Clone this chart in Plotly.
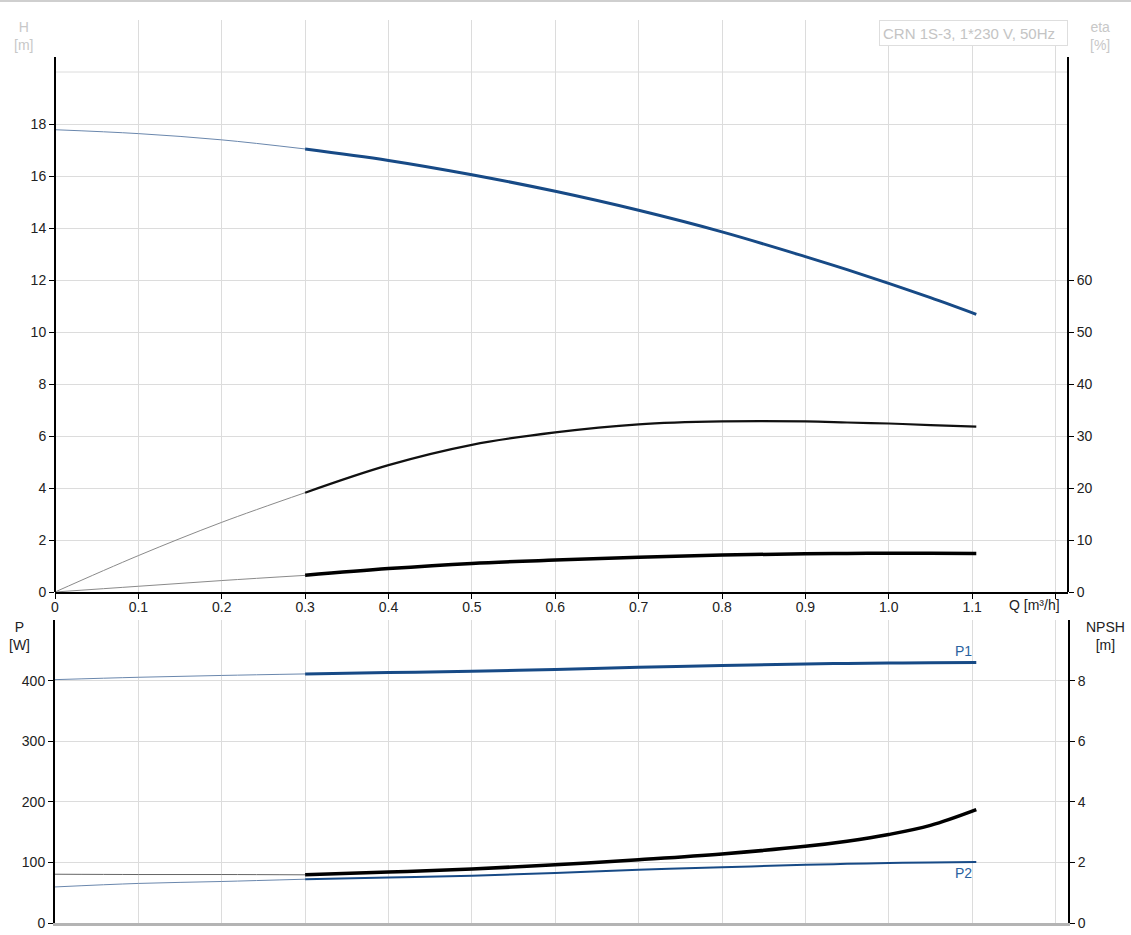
import plotly.graph_objects as go

# ---------------- data ----------------
q_thin = [0.0, 0.1, 0.2, 0.3]
q_thick = [0.3, 0.4, 0.5, 0.6, 0.7, 0.8, 0.9, 0.95, 1.0, 1.05, 1.105]

H_thin = [17.78, 17.63, 17.39, 17.04]
H_thick = [17.04, 16.60, 16.05, 15.41, 14.68, 13.85, 12.90, 12.40, 11.87, 11.32, 10.68]

eta_thin = [0.0, 7.0, 13.4, 19.1]
eta_thick = [19.1, 24.4, 28.3, 30.7, 32.25, 32.8, 32.8, 32.6, 32.4, 32.1, 31.8]

etaT_thin = [0.0, 1.1, 2.2, 3.2]
etaT_thick = [3.2, 4.5, 5.5, 6.15, 6.7, 7.1, 7.35, 7.42, 7.45, 7.45, 7.4]

P1_thin = [401.6, 405.5, 408.5, 411.0]
P1_thick = [411.0, 413.2, 415.4, 418.5, 421.9, 424.8, 427.4, 428.3, 429.0, 429.5, 430.0]

P2_thin = [59.5, 65.3, 68.5, 72.3]
P2_thick = [72.3, 75.0, 77.8, 82.5, 87.7, 92.0, 96.0, 97.6, 99.0, 100.0, 100.5]

NPSH_thin = [1.61, 1.60, 1.60, 1.59]
NPSH_thick = [1.59, 1.68, 1.78, 1.92, 2.09, 2.28, 2.53, 2.70, 2.92, 3.22, 3.74]

x_ticks = [0, 0.1, 0.2, 0.3, 0.4, 0.5, 0.6, 0.7, 0.8, 0.9, 1.0, 1.1, 1.2]
x_ticktext = ["0", "0.1", "0.2", "0.3", "0.4", "0.5", "0.6", "0.7", "0.8", "0.9", "1.0", "1.1", ""]
x_title = "Q [m³/h]"
H_ticks = [0, 2, 4, 6, 8, 10, 12, 14, 16, 18]
H_top_grid = 20
eta_ticks = [0, 10, 20, 30, 40, 50, 60]
P_ticks = [0, 100, 200, 300, 400]
NPSH_ticks = [0, 2, 4, 6, 8]

BLUE = "#174a86"
BLUE_THIN = "#6a87ad"
GRID = "#dcdcdc"
FONT = "Liberation Sans, Arial, sans-serif"

fig = go.Figure()

def add(x, y, color, width, xa, ya, shape="spline"):
    fig.add_trace(go.Scatter(x=x, y=y, mode="lines", xaxis=xa, yaxis=ya,
                             line=dict(color=color, width=width, shape=shape),
                             hoverinfo="skip", showlegend=False))

# top chart
add(q_thin, eta_thin, "#8a8a8a", 1, "x", "y2")
add(q_thick, eta_thick, "#111111", 2.2, "x", "y2")
add(q_thin, etaT_thin, "#8a8a8a", 1, "x", "y2")
add(q_thick, etaT_thick, "#000000", 3.5, "x", "y2")
add(q_thin, H_thin, BLUE_THIN, 1, "x", "y")
add(q_thick, H_thick, BLUE, 3, "x", "y")

# bottom chart
add(q_thin, NPSH_thin, "#666666", 1, "x2", "y4")
add(q_thick, NPSH_thick, "#000000", 3.5, "x2", "y4")
add(q_thin, P2_thin, BLUE_THIN, 1, "x2", "y3")
add(q_thick, P2_thick, BLUE, 2, "x2", "y3")
add(q_thin, P1_thin, BLUE_THIN, 1, "x2", "y3")
add(q_thick, P1_thick, BLUE, 3, "x2", "y3")

tickfont = dict(family=FONT, size=14, color="#222222")

top_dom = [(923 - 592) / 903, 1.0]
bot_dom = [0.0, (923 - 620) / 903]

fig.update_layout(
    width=1131, height=935,
    margin=dict(l=55, r=63, t=20, b=12, autoexpand=False),
    paper_bgcolor="white", plot_bgcolor="white",
    font=dict(family=FONT, size=14, color="#222222"),
    xaxis=dict(domain=[0, 1], range=[0, 1.215], anchor="y", automargin=False,
               tickvals=x_ticks, ticktext=x_ticktext, tickfont=tickfont,
               ticklabelstandoff=-4,
               showgrid=True, gridcolor=GRID, gridwidth=1, zeroline=False,
               ticks="outside", ticklen=5, tickcolor="#000", tickwidth=1,
               showline=True, linecolor="#000", linewidth=2),
    xaxis2=dict(domain=[0, 1], range=[0, 1.215], anchor="y3", automargin=False,
                tickvals=x_ticks, showticklabels=False,
                showgrid=True, gridcolor=GRID, gridwidth=1, zeroline=False,
                ticks="", showline=True, linecolor="#b4b4b4", linewidth=3),
    yaxis=dict(domain=top_dom, range=[0, 22], anchor="x", automargin=False,
               tickvals=H_ticks, tickfont=tickfont,
               showgrid=True, gridcolor=GRID, gridwidth=1, zeroline=False,
               ticks="outside", ticklen=5, tickcolor="#000", showline=False),
    yaxis2=dict(overlaying="y", side="right", range=[0, 110], anchor="x", automargin=False,
                tickvals=eta_ticks, tickfont=tickfont, showgrid=False, zeroline=False,
                ticks="outside", ticklen=5, tickcolor="#000", showline=False),
    yaxis3=dict(domain=bot_dom, range=[0, 500], anchor="x2", automargin=False,
                tickvals=P_ticks, tickfont=tickfont,
                showgrid=True, gridcolor=GRID, gridwidth=1, zeroline=False,
                ticks="outside", ticklen=5, tickcolor="#000",
                showline=True, linecolor="#000", linewidth=2),
    yaxis4=dict(overlaying="y3", side="right", range=[0, 10], anchor="x2", automargin=False,
                tickvals=NPSH_ticks, tickfont=tickfont, showgrid=False, zeroline=False,
                ticks="outside", ticklen=5, tickcolor="#000",
                showline=True, linecolor="#000", linewidth=2),
)

# gridline at H = 20 without a tick
fig.add_shape(type="line", xref="x domain", yref="y", x0=0, x1=1, y0=H_top_grid, y1=H_top_grid,
              line=dict(color=GRID, width=1), layer="below")

axis_top = (592 - 57) / (592 - 20)
fig.add_shape(type="line", xref="x domain", yref="y domain", x0=0, x1=0, y0=0, y1=axis_top,
              line=dict(color="#000", width=2))
fig.add_shape(type="line", xref="x domain", yref="y domain", x0=1, x1=1, y0=0, y1=axis_top,
              line=dict(color="#000", width=2))
# top frame line of the page
fig.add_shape(type="line", xref="paper", yref="paper", x0=-55 / 1013, x1=1 + 63 / 1013,
              y0=(923 - 1) / 903, y1=(923 - 1) / 903, line=dict(color="#cfcfcf", width=2))

# product label box
fig.add_annotation(xref="paper", yref="paper", x=1.0, y=1.0, xanchor="right", yanchor="top",
                   text="CRN 1S-3, 1*230 V, 50Hz", showarrow=False, align="left",
                   width=181, height=18,
                   font=dict(family=FONT, size=15, color="#c4c4c4"),
                   bordercolor="#dedede", borderwidth=1, borderpad=3, bgcolor="white")

def px_x(px):
    return (px - 55) / 1013

def px_y(px):
    return (923 - px) / 903

# x-axis title at the end of the top axis
fig.add_annotation(xref="x", yref="paper", x=1.2, y=px_y(605), text=x_title,
                   showarrow=False, xanchor="right", yanchor="middle", xshift=7,
                   font=dict(family=FONT, size=14, color="#222222"))

# axis titles
fig.add_annotation(xref="paper", yref="paper", x=px_x(23), y=px_y(36.5), text="H<br>[m]",
                   showarrow=False, xanchor="center", yanchor="middle",
                   font=dict(family=FONT, size=14, color="#c8c8c8"))
fig.add_annotation(xref="paper", yref="paper", x=px_x(1100), y=px_y(36.5), text="eta<br>[%]",
                   showarrow=False, xanchor="center", yanchor="middle",
                   font=dict(family=FONT, size=14, color="#c8c8c8"))
fig.add_annotation(xref="paper", yref="paper", x=px_x(19), y=px_y(636), text="P<br>[W]",
                   showarrow=False, xanchor="center", yanchor="middle",
                   font=dict(family=FONT, size=14, color="#222222"))
fig.add_annotation(xref="paper", yref="paper", x=px_x(1105), y=px_y(636), text="NPSH<br>[m]",
                   showarrow=False, xanchor="center", yanchor="middle",
                   font=dict(family=FONT, size=14, color="#222222"))

# curve labels
fig.add_annotation(xref="x2", yref="y3", x=q_thick[-1], y=P1_thick[-1], text="P1",
                   showarrow=False, xanchor="right", yanchor="bottom", xshift=-2, yshift=1,
                   font=dict(family=FONT, size=14, color="#2a62a0"))
fig.add_annotation(xref="x2", yref="y3", x=q_thick[-1], y=P2_thick[-1], text="P2",
                   showarrow=False, xanchor="right", yanchor="top", xshift=-2, yshift=-1,
                   font=dict(family=FONT, size=14, color="#2a62a0"))

fig.write_html("out.html", config={"displayModeBar": False},
               post_script="document.body.style.margin='0';document.body.style.overflow='hidden';")
